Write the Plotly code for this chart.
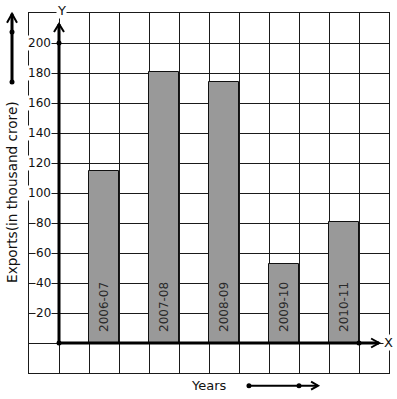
import plotly.graph_objects as go

# ---- data ----
years = ["2006-07", "2007-08", "2008-09", "2009-10", "2010-11"]
exports = [115, 181, 174, 53, 81]
y_ticks = [20, 40, 60, 80, 100, 120, 140, 160, 180, 200]

FONT = "DejaVu Sans"
BAR_POS = [1.5 + 2 * i for i in range(len(years))]

fig = go.Figure()

fig.add_trace(go.Bar(
    x=BAR_POS, y=exports, width=1,
    marker=dict(color="#999999", line=dict(color="#111111", width=1)),
    hoverinfo="skip", showlegend=False,
))

# axis dots (origin, y=200, x end)
fig.add_trace(go.Scatter(
    x=[0, 0, 10], y=[0, 200, 0], mode="markers",
    marker=dict(color="black", size=5), cliponaxis=False,
    hoverinfo="skip", showlegend=False,
))

ann = []
# tick labels
for v in y_ticks:
    ann.append(dict(x=-0.22, y=v, xref="x", yref="y", text=str(v), showarrow=False,
                    xanchor="right", yanchor="middle", bgcolor="white", borderpad=0,
                    font=dict(family=FONT, size=12, color="#111")))

# bar labels
for xp, lab in zip(BAR_POS, years):
    ann.append(dict(x=xp, y=0, xref="x", yref="y", text=lab, showarrow=False,
                    textangle=-90, xanchor="center", yanchor="bottom", yshift=9,
                    font=dict(family=FONT, size=12, color="#2a2a2a")))

CM = dict(showarrow=False, xanchor="center", yanchor="middle")
# axis letters
ann.append(dict(x=0.0889, y=1.0083, xref="paper", yref="paper", text="Y",
                bgcolor="white", borderpad=0, font=dict(family=FONT, size=13, color="#111"), **CM))
ann.append(dict(x=10.97, y=0.67, xref="x", yref="y", text="X",
                bgcolor="white", borderpad=0, font=dict(family=FONT, size=13, color="#111"), **CM))
# titles
ann.append(dict(x=0.5, y=-0.0353, xref="paper", yref="paper", text="Years",
                font=dict(family=FONT, size=13, color="#111"), **CM))
ann.append(dict(x=-0.0472, y=0.503, xref="paper", yref="paper",
                text="Exports(in thousand crore)", textangle=-90,
                font=dict(family=FONT, size=13.6, color="#111"), **CM))

shapes = []
BLK = "black"


def chevron(xref, yref, xa, ya, path, w=2):
    return dict(type="path", xref=xref, yref=yref, xsizemode="pixel", ysizemode="pixel",
                xanchor=xa, yanchor=ya, path=path, line=dict(color=BLK, width=w),
                layer="above")


# thick axis lines with arrowheads
shapes.append(dict(type="line", x0=0, x1=10.67, y0=0, y1=0, xref="x", yref="y",
                   line=dict(color=BLK, width=3), layer="above"))
shapes.append(chevron("x", "y", 10.67, 0, "M-8,4.5 L0,0 L-8,-4.5"))
shapes.append(dict(type="line", x0=0, x1=0, y0=0, y1=212.7, xref="x", yref="y",
                   line=dict(color=BLK, width=3), layer="above"))
shapes.append(chevron("x", "y", 0, 212.7, "M-5,-8 L0,0 L5,-8"))

# left decorative arrow
shapes.append(dict(type="line", x0=-0.0472, x1=-0.0472, y0=0.8083, y1=0.998,
                   xref="paper", yref="paper", line=dict(color=BLK, width=3), layer="above"))
shapes.append(chevron("paper", "paper", -0.0472, 0.998, "M-5,-9 L0,0 L5,-9"))
# bottom decorative arrow
shapes.append(dict(type="line", x0=0.611, x1=0.803, y0=-0.0353, y1=-0.0353,
                   xref="paper", yref="paper", line=dict(color=BLK, width=2), layer="above"))
shapes.append(chevron("paper", "paper", 0.803, -0.0353, "M-7,4 L0,0 L-7,-4"))

# dots on decorative arrows (paper, pixel-sized)
for px, py in [(-0.0472, 0.947), (-0.0472, 0.8083), (0.611, -0.0353), (0.75, -0.0353)]:
    shapes.append(dict(type="circle", xref="paper", yref="paper",
                       xsizemode="pixel", ysizemode="pixel", xanchor=px, yanchor=py,
                       x0=-2.5, x1=2.5, y0=-2.5, y1=2.5,
                       fillcolor=BLK, line=dict(width=0), layer="above"))

fig.update_layout(
    width=397, height=399, autosize=False,
    margin=dict(l=29, r=8, t=13, b=26, pad=0),
    paper_bgcolor="white", plot_bgcolor="white",
    annotations=ann, shapes=shapes, bargap=0,
    xaxis=dict(range=[-1, 11], tick0=0, dtick=1, showgrid=True, gridcolor="#1a1a1a",
               gridwidth=1, zeroline=False, showticklabels=False, ticks="",
               showline=True, mirror=True, linecolor="#1a1a1a", linewidth=1, fixedrange=True),
    yaxis=dict(range=[-20, 220], tick0=0, dtick=20, showgrid=True, gridcolor="#1a1a1a",
               gridwidth=1, zeroline=False, showticklabels=False, ticks="",
               showline=True, mirror=True, linecolor="#1a1a1a", linewidth=1, fixedrange=True),
)

fig.write_html("out.html", config={"displayModeBar": False},
               post_script="document.body.style.margin='0';document.body.style.overflow='hidden';")
